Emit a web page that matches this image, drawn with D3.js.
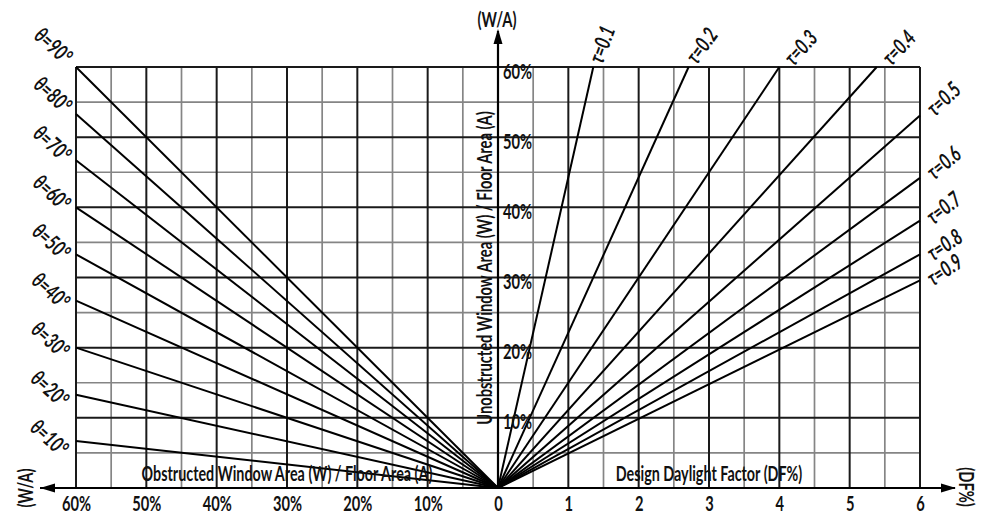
<!DOCTYPE html>
<html>
<head>
<meta charset="utf-8">
<script src="https://cdn.jsdelivr.net/npm/d3@7"></script>
<style>
  html, body { margin: 0; padding: 0; background: #fff; }
  svg { display: block; }
  text { font-family: Lato, "Open Sans", "DejaVu Sans", sans-serif; font-weight: 700; fill: #111; }
</style>
</head>
<body>
<svg id="chart" width="989" height="515"></svg>
<script>
// Obstruction angle lines: W/A (%) reached at the 60% obstructed edge
const thetaDeg = [10, 20, 30, 40, 50, 60, 70, 80, 90];
const thetaEndWA = [6.7, 13.3, 20, 26.7, 33.3, 40, 46.7, 53.3, 60];

// Glazing transmittance lines: end point (DF, W/A) on the chart border
const tauVals = [0.1, 0.2, 0.3, 0.4, 0.5, 0.6, 0.7, 0.8, 0.9];
const tauEndDF = [1.355, 2.71, 4.0, 5.385, 6, 6, 6, 6, 6];
const tauEndWA = [60, 60, 60, 60, 53.1, 44.2, 38.1, 33.3, 29.6];

// Tick labels
const obstructedTicks = [60, 50, 40, 30, 20, 10];
const dfTicks = [0, 1, 2, 3, 4, 5, 6];
const unobstructedTicks = [10, 20, 30, 40, 50, 60];

const svg = d3.select("#chart");
const SQ = 0.7; // condensed lettering
const FS = 21;

// Scales: obstructed W/A runs leftwards, DF rightwards, unobstructed W/A upwards
const xObs = d3.scaleLinear().domain([0, 60]).range([498, 76]);
const xDF = d3.scaleLinear().domain([0, 6]).range([498, 920]);
const y = d3.scaleLinear().domain([0, 60]).range([488, 67]);

const grid = svg.append("g");

// Minor grid (every 5% / 0.5 DF)
const minorV = d3.range(5, 60, 10).map(v => xObs(v)).concat(d3.range(0.5, 6, 1).map(v => xDF(v)));
const minorH = d3.range(5, 60, 10).map(v => y(v));
grid.selectAll("line.mv").data(minorV).join("line")
  .attr("x1", d => d).attr("x2", d => d).attr("y1", y(0)).attr("y2", y(60))
  .attr("stroke", "#858585").attr("stroke-width", 1.7);
grid.selectAll("line.mh").data(minorH).join("line")
  .attr("x1", xObs(60)).attr("x2", xDF(6)).attr("y1", d => d).attr("y2", d => d)
  .attr("stroke", "#858585").attr("stroke-width", 1.7);

// Major grid (every 10% / 1 DF)
const majorV = d3.range(10, 61, 10).map(v => xObs(v)).concat(d3.range(1, 7, 1).map(v => xDF(v)));
const majorH = d3.range(10, 61, 10).map(v => y(v));
grid.selectAll("line.Mv").data(majorV).join("line")
  .attr("x1", d => d).attr("x2", d => d).attr("y1", y(0)).attr("y2", y(60))
  .attr("stroke", "#1a1a1a").attr("stroke-width", 2);
grid.selectAll("line.Mh").data(majorH).join("line")
  .attr("x1", xObs(60)).attr("x2", xDF(6)).attr("y1", d => d).attr("y2", d => d)
  .attr("stroke", "#1a1a1a").attr("stroke-width", 2);

// Obstruction angle lines
svg.append("g").selectAll("line").data(thetaDeg).join("line")
  .attr("x1", xObs(0)).attr("y1", y(0))
  .attr("x2", xObs(60)).attr("y2", (d, i) => y(thetaEndWA[i]))
  .attr("stroke", "#000").attr("stroke-width", 2);

// Transmittance lines
svg.append("g").selectAll("line").data(tauVals).join("line")
  .attr("x1", xDF(0)).attr("y1", y(0))
  .attr("x2", (d, i) => xDF(tauEndDF[i])).attr("y2", (d, i) => y(tauEndWA[i]))
  .attr("stroke", "#000").attr("stroke-width", 2);

// Axes with arrowheads
const axes = svg.append("g");
axes.append("line").attr("x1", 40).attr("x2", 955).attr("y1", y(0)).attr("y2", y(0))
  .attr("stroke", "#000").attr("stroke-width", 2.2);
axes.append("line").attr("x1", xDF(0)).attr("x2", xDF(0)).attr("y1", y(0)).attr("y2", 31)
  .attr("stroke", "#000").attr("stroke-width", 2.2);
const arrow = (pts) => axes.append("path").attr("d", "M" + pts.map(p => p.join(",")).join("L") + "Z").attr("fill", "#000");
arrow([[40, y(0)], [55, y(0) - 4.5], [55, y(0) + 4.5]]);
arrow([[956, y(0)], [941, y(0) - 4.5], [941, y(0) + 4.5]]);
arrow([[xDF(0), 29], [xDF(0) - 4.5, 44], [xDF(0) + 4.5, 44]]);

// Tick labels through d3 axes
function condense(sel, dy) {
  sel.selectAll("text")
    .attr("x", 0).attr("y", 0).attr("dy", null)
    .attr("dominant-baseline", "central")
    .attr("transform", `translate(0,${dy}) scale(${SQ},1)`)
    .style("font-size", FS + "px");
  sel.select(".domain").remove();
  sel.selectAll(".tick line").remove();
}
svg.append("g").attr("transform", `translate(0,${y(0)})`)
  .call(d3.axisBottom(xObs).tickValues(obstructedTicks).tickFormat(d => d + "%").tickSize(0))
  .call(g => condense(g, 15));
svg.append("g").attr("transform", `translate(0,${y(0)})`)
  .call(d3.axisBottom(xDF).tickValues(dfTicks).tickFormat(d3.format("d")).tickSize(0))
  .call(g => condense(g, 15));
const yAx = svg.append("g").attr("transform", `translate(${xDF(0)},0)`)
  .call(d3.axisRight(y).tickValues(unobstructedTicks).tickFormat(d => d + "%").tickSize(0));
yAx.select(".domain").remove();
yAx.selectAll("text")
  .attr("x", 0).attr("y", 0).attr("dy", null)
  .attr("text-anchor", "start").attr("dominant-baseline", "central")
  .attr("transform", `translate(5,3) scale(${SQ},1)`)
  .style("font-size", FS + "px");

// Free labels
function label(txt, x, yy, angle, size, anchor) {
  svg.append("text")
    .attr("transform", `translate(${x},${yy}) rotate(${angle}) scale(${SQ},1)`)
    .attr("text-anchor", anchor || "middle")
    .attr("dominant-baseline", "central")
    .style("font-size", size + "px")
    .text(txt);
}
label("(W/A)", 497, 19, 0, FS);
label("(W/A)", 25, 488, -90, FS);
label("(DF%)", 967, 487, 90, FS);
label("Unobstructed Window Area (W) / Floor Area (A)", 484, 268, -90, 21);
label("Obstructed Window Area (W) / Floor Area (A)", 287, 473, 0, 20.5);
label("Design Daylight Factor (DF%)", 709, 473, 0, 20.5);

// Angle labels down the left margin
thetaDeg.slice().reverse().forEach((t, i) => {
  svg.append("text")
    .attr("transform", `translate(${54 - i * 0.5},${45 + i * 49}) rotate(42) scale(${SQ},1)`)
    .attr("text-anchor", "middle").attr("dominant-baseline", "central")
    .style("font-size", "22px").style("font-style", "italic")
    .text(`θ=${t}°`);
});

// Transmittance labels at the line ends
const tauLabelPos = [[601, 44, -70], [701, 45, -54], [800, 47, -48], [898, 47, -47],
  [943, 98, -43], [943, 162, -40], [943, 207, -38], [944, 244, -34], [944, 269, -34]];
tauVals.forEach((t, i) => {
  const [lx, ly, a] = tauLabelPos[i];
  svg.append("text")
    .attr("transform", `translate(${lx},${ly}) rotate(${a}) scale(${SQ},1)`)
    .attr("text-anchor", "middle").attr("dominant-baseline", "central")
    .style("font-size", "22px").style("font-style", "italic")
    .text(`τ=${t}`);
});
</script>
</body>
</html>
